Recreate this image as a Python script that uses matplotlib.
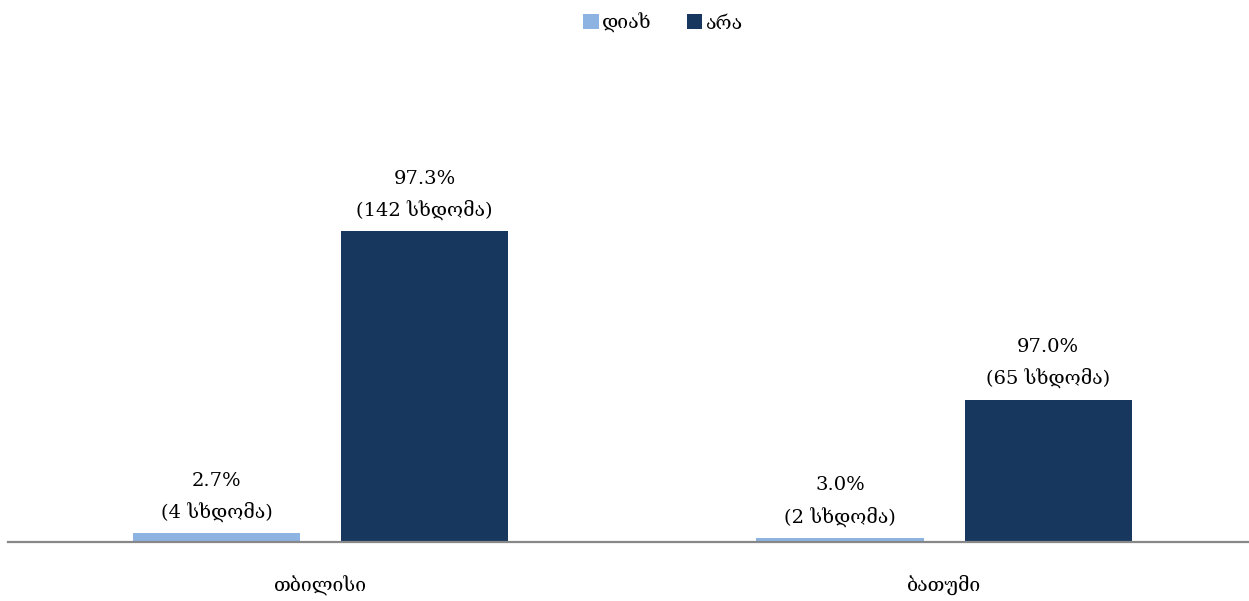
import matplotlib.pyplot as plt
import numpy as np

plt.rcParams['font.family'] = ['DejaVu Serif', 'DejaVu Sans']

categories = ['თბილისი', 'ბათუმი']
series_names = ['დიახ', 'არა']
counts_yes = [4, 2]
counts_no = [142, 65]
pct_yes = [2.7, 3.0]
pct_no = [97.3, 97.0]

colors = ['#8DB3E2', '#17375E']


def main():
    fig = plt.figure(figsize=(12.49, 6.01), dpi=100)
    ax = fig.add_axes([8 / 1249, 59 / 601, 1 - 8 / 1249, 482 / 601])

    x = np.arange(len(categories))
    width = 0.268
    offset = 0.1668

    groups = [(counts_yes, pct_yes), (counts_no, pct_no)]
    for i, (counts, pcts) in enumerate(groups):
        pos = x + (offset if i else -offset)
        bars = ax.bar(pos, counts, width, color=colors[i], label=series_names[i])
        for b, c, p in zip(bars, counts, pcts):
            ax.annotate(f'{p:.1f}%\n({c} სხდომა)',
                        (b.get_x() + b.get_width() / 2, b.get_height()),
                        xytext=(0, 8), textcoords='offset points',
                        ha='center', va='bottom', fontsize=14,
                        linespacing=1.75)

    ax.set_xlim(-0.501, 1.489)
    ax.set_ylim(0, 220)
    ax.set_xticks(x)
    ax.set_xticklabels(categories, fontsize=14)
    ax.tick_params(axis='x', length=0, pad=24)
    ax.set_yticks([])
    for s in ['top', 'right', 'left']:
        ax.spines[s].set_visible(False)
    ax.spines['bottom'].set_color('#888888')
    ax.spines['bottom'].set_linewidth(1.6)

    fig.legend(loc='upper center', bbox_to_anchor=(0.531, 1.008), ncol=2,
               frameon=False, fontsize=14, handlelength=0.8, handleheight=0.8,
               handletextpad=0.2, columnspacing=1.8)

    fig.savefig('out.png', dpi=100)


if __name__ == '__main__':
    main()
